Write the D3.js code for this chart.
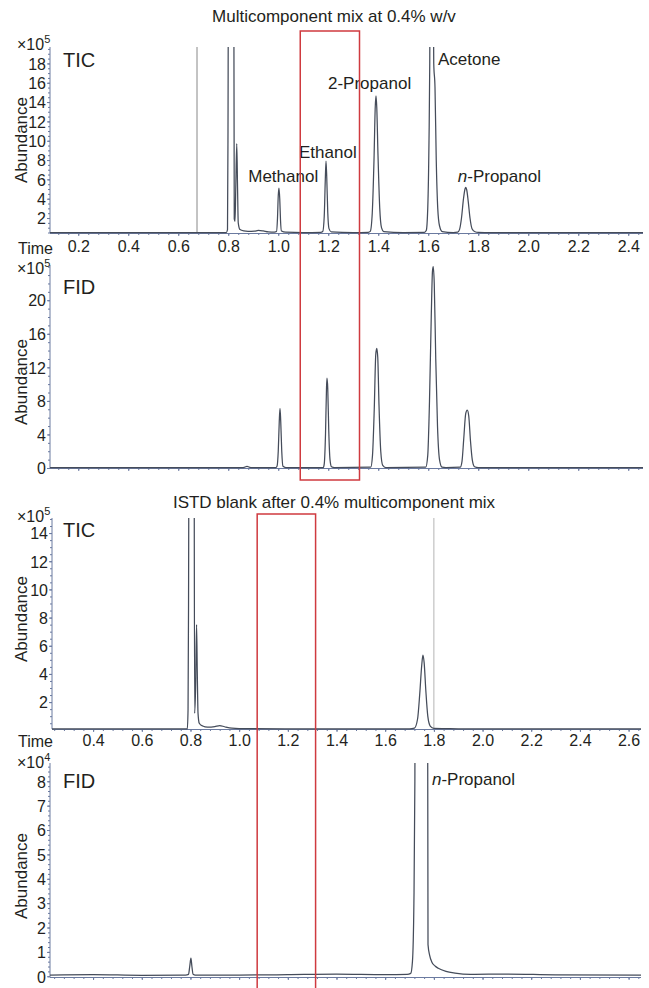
<!DOCTYPE html>
<html><head><meta charset="utf-8">
<script src="https://cdn.jsdelivr.net/npm/d3@7"></script>
<style>
body{margin:0;background:#fff}
svg text{font-family:"Liberation Sans",Arial,sans-serif;fill:#231f20}
</style>
</head><body>
<svg id="c" width="649" height="988"></svg>
<script>
// ---------------- DATA ----------------
const titles = ["Multicomponent mix at 0.4% w/v", "ISTD blank after 0.4% multicomponent mix"];
const panelNames = ["TIC", "FID", "TIC", "FID"];
const exponents = ["5", "5", "5", "4"];
const yAxisTitle = "Abundance";
const xAxisTitle = "Time";

const xTicksMix = [0.2, 0.4, 0.6, 0.8, 1.0, 1.2, 1.4, 1.6, 1.8, 2.0, 2.2, 2.4];
const xTicksBlank = [0.4, 0.6, 0.8, 1.0, 1.2, 1.4, 1.6, 1.8, 2.0, 2.2, 2.4, 2.6];
const yTicksTic1 = [2, 4, 6, 8, 10, 12, 14, 16, 18];
const yTicksFid1 = [0, 4, 8, 12, 16, 20];
const yTicksTic2 = [2, 4, 6, 8, 10, 12, 14];
const yTicksFid2 = [0, 1, 2, 3, 4, 5, 6, 7, 8];

// TIC, multicomponent mix (x1e5) : [time, abundance]
const ticMix = [
  [0.087,0.5],[0.40,0.5],[0.70,0.5],[0.792,0.5],[0.797,0.8],[0.799,11],[0.801,30],[0.822,30],[0.824,1.9],
  [0.827,1.65],[0.830,5],[0.834,9.7],[0.837,5.5],[0.840,1.5],[0.847,0.8],[0.862,0.66],[0.879,0.62],
  [0.905,0.64],[0.92,0.72],[0.94,0.66],[0.96,0.56],[0.985,0.54],
  [0.993,0.6],[0.997,2.0],[1.000,4.3],[1.003,5.1],[1.006,4.0],[1.009,1.8],[1.013,0.65],[1.03,0.53],
  [1.10,0.5],[1.17,0.52],
  [1.178,0.6],[1.184,2.2],[1.188,5.8],[1.191,7.9],[1.194,6.2],[1.198,2.6],[1.203,0.9],[1.212,0.56],
  [1.30,0.5],[1.36,0.52],
  [1.368,0.62],[1.376,2.5],[1.383,8],[1.388,13.5],[1.391,14.65],[1.394,13.5],[1.399,8.5],[1.406,3],[1.413,1.0],[1.422,0.6],
  [1.50,0.5],[1.585,0.52],
  [1.592,0.7],[1.598,3],[1.603,10],[1.606,18],[1.608,30],[1.619,30],[1.622,18],[1.627,15.5],[1.632,8],[1.638,3],[1.645,1.2],[1.656,0.6],
  [1.70,0.5],[1.718,0.55],
  [1.725,0.8],[1.733,2.0],[1.741,4.0],[1.747,5.0],[1.750,5.16],[1.754,4.9],[1.760,3.7],[1.767,2.0],[1.775,0.9],[1.787,0.58],
  [1.80,0.52],[1.85,0.5],[2.10,0.5],[2.459,0.5]
];
// FID, multicomponent mix (x1e5)
const fidMix = [
  [0.087,0.05],[0.50,0.05],[0.86,0.05],[0.875,0.18],[0.89,0.05],[0.99,0.05],
  [0.995,0.2],[1.000,2.0],[1.004,5.5],[1.007,7.1],[1.010,5.5],[1.014,2.0],[1.019,0.2],[1.03,0.05],
  [1.180,0.05],[1.184,0.5],[1.189,4],[1.193,9.5],[1.195,10.7],[1.198,9.5],[1.202,4.5],[1.207,1],[1.213,0.15],[1.225,0.05],
  [1.370,0.1],[1.377,1.5],[1.384,7],[1.390,13.5],[1.394,14.25],[1.398,13.2],[1.403,7.5],[1.410,2],[1.418,0.3],[1.43,0.05],
  [1.590,0.1],[1.598,1.5],[1.605,8],[1.612,18],[1.617,23.5],[1.620,24.0],[1.624,22],[1.630,13],[1.637,5],[1.645,1],[1.655,0.1],[1.67,0.05],
  [1.728,0.1],[1.735,0.8],[1.742,3.5],[1.750,6.5],[1.756,6.9],[1.762,6.2],[1.769,3.2],[1.776,1],[1.785,0.15],[1.80,0.05],
  [2.10,0.05],[2.459,0.05]
];
// TIC, ISTD blank (x1e5)
const ticBlank = [
  [0.231,0.1],[0.50,0.1],[0.787,0.1],[0.790,1.5],[0.792,8.9],[0.795,30],[0.814,30],[0.817,1.2],
  [0.821,3],[0.825,7.5],[0.828,4],[0.831,1.2],[0.836,0.5],[0.85,0.3],[0.87,0.22],[0.90,0.26],
  [0.92,0.33],[0.94,0.25],[0.97,0.15],[1.0,0.12],[1.3,0.1],[1.70,0.1],[1.72,0.15],
  [1.733,0.8],[1.742,2.6],[1.750,4.6],[1.755,5.34],[1.760,4.8],[1.767,2.8],[1.775,1.0],[1.785,0.3],
  [1.80,0.14],[1.85,0.12],[1.90,0.1],[2.651,0.1]
];
// FID, ISTD blank (x1e4)
const fidBlank = [
  [0.223,0.05],[0.40,0.07],[0.60,0.04],[0.78,0.05],[0.792,0.08],[0.797,0.4],[0.802,0.74],[0.806,0.4],[0.811,0.08],
  [0.82,0.05],[1.0,0.05],[1.2,0.07],[1.4,0.09],[1.6,0.07],[1.69,0.08],[1.705,0.12],[1.712,0.6],[1.718,3],
  [1.722,8],[1.725,20],[1.773,20],[1.776,1.3],[1.783,0.85],[1.791,0.6],[1.805,0.42],[1.818,0.33],
  [1.85,0.2],[1.887,0.13],[1.95,0.08],[2.1,0.09],[2.3,0.06],[2.651,0.05]
];

const markersMix = [0.675];
const markersBlank = [1.80];
const windowMix = [1.088, 1.325];
const windowBlank = [1.074, 1.314];

// peak labels: [text, time, abundance, italic prefix]
const labelsMix = [
  ["Methanol", 0.880, 5.73, ""],
  ["Ethanol", 1.083, 8.21, ""],
  ["2-Propanol", 1.199, 15.35, ""],
  ["Acetone", 1.639, 17.84, ""],
  ["-Propanol", 1.718, 5.73, "n"]
];
const labelsBlankFid = [
  ["-Propanol", 1.792, 7.85, "n"]
];

// ---------------- DRAW ----------------
const svg = d3.select("#c");
const traceColor = "#454c5a";
const axisColor = "#6b7aa0";
const red = "#cf3a3f";
const fmt = d3.format(".1f");

function panel(cfg) {
  const x = d3.scaleLinear().domain(cfg.xDomain).range(cfg.xRange);
  const y = d3.scaleLinear().domain(cfg.yDomain).range(cfg.yRange);
  const g = svg.append("g");
  const [x0, x1] = cfg.xRange, [yb, yt] = cfg.yRange;
  const cid = cfg.id;
  svg.append("defs").append("clipPath").attr("id", cid)
    .append("rect").attr("x", x0).attr("y", yt).attr("width", x1 - x0).attr("height", yb - yt + 1);

  // y minor ticks
  const yMinor = d3.range(Math.ceil(cfg.yDomain[0] / cfg.yMinor) * cfg.yMinor, cfg.yDomain[1], cfg.yMinor);
  const ay1 = g.append("g").attr("transform", `translate(${x0},0)`)
    .call(d3.axisLeft(y).tickValues(yMinor).tickSize(2).tickFormat("").tickSizeOuter(0));
  ay1.select(".domain").remove();
  ay1.selectAll("line").attr("stroke", axisColor);
  // y major
  const ay = g.append("g").attr("transform", `translate(${x0},0)`)
    .call(d3.axisLeft(y).tickValues(cfg.yTicks).tickSize(3).tickPadding(1).tickFormat(d3.format("d")).tickSizeOuter(0));
  ay.select(".domain").remove();
  ay.selectAll("line").attr("stroke", axisColor);
  ay.selectAll("text").attr("font-size", 16).attr("font-family", null).attr("fill", "#231f20").attr("dy", "0.36em");
  g.append("line").attr("x1", x0).attr("x2", x0).attr("y1", yb).attr("y2", yt).attr("stroke", axisColor).attr("stroke-width", 1);

  // x minor ticks
  const xMinor = d3.range(Math.ceil(cfg.xDomain[0] / 0.04) * 0.04, cfg.xDomain[1], 0.04);
  const ax1 = g.append("g").attr("transform", `translate(0,${yb})`)
    .call(d3.axisBottom(x).tickValues(xMinor).tickSize(2).tickFormat("").tickSizeOuter(0));
  ax1.select(".domain").remove();
  ax1.selectAll("line").attr("stroke", axisColor);
  const ax = g.append("g").attr("transform", `translate(0,${yb})`)
    .call(d3.axisBottom(x).tickValues(cfg.xTicks).tickSize(3).tickPadding(cfg.xPad || 8)
      .tickFormat(cfg.xLabels ? fmt : "").tickSizeOuter(0));
  ax.select(".domain").remove();
  ax.selectAll("line").attr("stroke", axisColor);
  ax.selectAll("text").attr("font-size", 16).attr("font-family", null).attr("fill", "#231f20");
  g.append("line").attr("x1", x0).attr("x2", x1).attr("y1", yb + 0.5).attr("y2", yb + 0.5).attr("stroke", axisColor).attr("stroke-width", 1.2);
  if (cfg.xLabels) {
    g.append("text").attr("x", 18).attr("y", cfg.xTitleY).attr("font-size", 16).text(xAxisTitle);
  }

  // markers
  const pg = g.append("g").attr("clip-path", `url(#${cid})`);
  pg.selectAll("line.mk").data(cfg.markers || []).join("line")
    .attr("x1", d => x(d)).attr("x2", d => x(d)).attr("y1", yt).attr("y2", yb)
    .attr("stroke", cfg.markerColor).attr("stroke-width", 1);
  // trace
  pg.append("path").datum(cfg.data)
    .attr("d", d3.line().x(d => x(d[0])).y(d => y(d[1])).curve(d3.curveMonotoneX))
    .attr("fill", "none").attr("stroke", traceColor).attr("stroke-width", 1.25).attr("stroke-linejoin", "round");

  // exponent label
  const e = g.append("text").attr("x", 17).attr("y", cfg.expY).attr("font-size", 16);
  e.append("tspan").text("×10");
  e.append("tspan").attr("font-size", 11).attr("dy", -7).text(cfg.exp);
  // panel name
  g.append("text").attr("x", 63).attr("y", cfg.nameY).attr("font-size", 20).text(cfg.name);
  // y title
  g.append("text").attr("transform", `translate(26.5,${cfg.yTitleY}) rotate(-90)`)
    .attr("text-anchor", "middle").attr("font-size", 17).text(yAxisTitle);
  // peak labels
  (cfg.labels || []).forEach(([t, tx, v, it]) => {
    const tt = g.append("text").attr("x", x(tx)).attr("y", y(v)).attr("font-size", 17);
    if (it) tt.append("tspan").attr("font-style", "italic").text(it);
    tt.append("tspan").text(t);
  });
  return {x, y};
}

const p1 = panel({id: "c1", data: ticMix, xDomain: [0.087, 2.459], xRange: [50, 643], yDomain: [0.45, 19.7], yRange: [233, 47],
  yTicks: yTicksTic1, yMinor: 0.5, xTicks: xTicksMix, xLabels: true, xPad: 5, xTitleY: 254,
  markers: markersMix, markerColor: "#888", exp: exponents[0], expY: 50, name: panelNames[0], nameY: 67, yTitleY: 140, labels: labelsMix});
const p2 = panel({id: "c2", data: fidMix, xDomain: [0.087, 2.459], xRange: [50, 643], yDomain: [0, 24.2], yRange: [468, 265],
  yTicks: yTicksFid1, yMinor: 1, xTicks: xTicksMix, xLabels: false,
  exp: exponents[1], expY: 274, name: panelNames[1], nameY: 294, yTitleY: 382});
const p3 = panel({id: "c3", data: ticBlank, xDomain: [0.231, 2.651], xRange: [52, 641], yDomain: [0.09, 15.07], yRange: [729, 518],
  yTicks: yTicksTic2, yMinor: 0.5, xTicks: xTicksBlank, xLabels: true, xPad: 3, xTitleY: 747,
  markers: markersBlank, markerColor: "#b4b4b4", exp: exponents[2], expY: 522, name: panelNames[2], nameY: 537, yTitleY: 619});
const p4 = panel({id: "c4", data: fidBlank, xDomain: [0.223, 2.651], xRange: [50, 641], yDomain: [-0.03, 8.75], yRange: [977, 763],
  yTicks: yTicksFid2, yMinor: 0.2, xTicks: xTicksBlank, xLabels: false,
  exp: exponents[3], expY: 768, name: panelNames[3], nameY: 788, yTitleY: 876, labels: labelsBlankFid});

// titles
svg.append("text").attr("x", 334).attr("y", 22).attr("text-anchor", "middle").attr("font-size", 17).text(titles[0]);
svg.append("text").attr("x", 334).attr("y", 508).attr("text-anchor", "middle").attr("font-size", 17).text(titles[1]);

// highlight windows
svg.append("rect").attr("x", p1.x(windowMix[0])).attr("y", 31)
  .attr("width", p1.x(windowMix[1]) - p1.x(windowMix[0])).attr("height", 449)
  .attr("fill", "none").attr("stroke", red).attr("stroke-width", 1.5);
svg.append("rect").attr("x", p3.x(windowBlank[0])).attr("y", 514)
  .attr("width", p3.x(windowBlank[1]) - p3.x(windowBlank[0])).attr("height", 480)
  .attr("fill", "none").attr("stroke", red).attr("stroke-width", 1.5);
</script>
</body></html>
